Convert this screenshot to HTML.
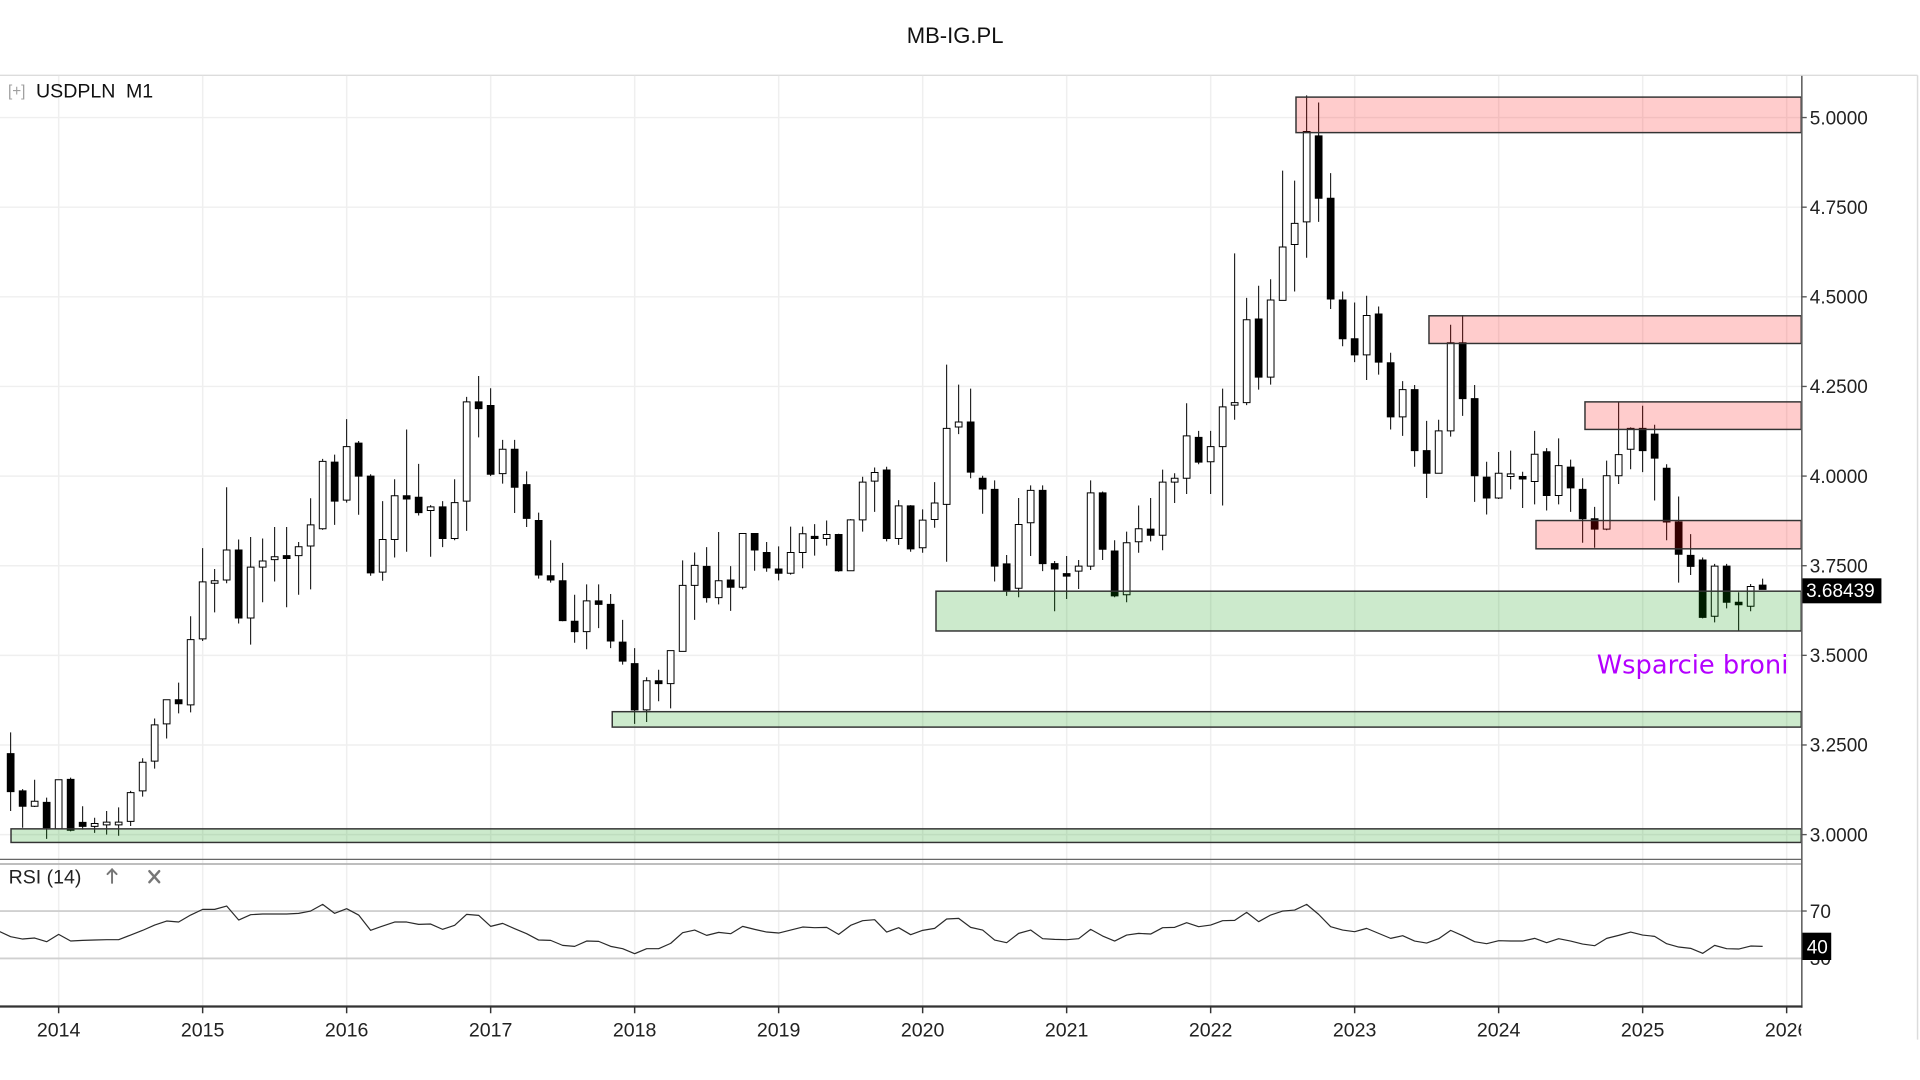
<!DOCTYPE html>
<html>
<head>
<meta charset="utf-8">
<style>
html,body{margin:0;padding:0;background:#fff;width:1920px;height:1080px;overflow:hidden;}
svg{display:block;}
text{font-family:"Liberation Sans",Arial,sans-serif;}
</style>
</head>
<body>
<svg width="1920" height="1080" viewBox="0 0 1568 882" preserveAspectRatio="none" xmlns="http://www.w3.org/2000/svg">
<defs>
<clipPath id="plot"><rect x="0" y="62" width="1471" height="640"/></clipPath>
<clipPath id="xclip"><rect x="0" y="822" width="1471" height="60"/></clipPath>
</defs>
<rect x="0" y="0" width="1568" height="882" fill="#fff"/>

<!-- title -->
<text x="780" y="35" font-size="18" text-anchor="middle" fill="#111">MB-IG.PL</text>

<!-- frame lines -->
<line x1="0" y1="61.5" x2="1566" y2="61.5" stroke="#dcdcdc" stroke-width="1.2"/>
<line x1="1566" y1="61.5" x2="1566" y2="849" stroke="#dcdcdc" stroke-width="1.2"/>

<!-- gridlines -->
<g stroke="#efefef" stroke-width="1.2">
<line x1="0" y1="96" x2="1471" y2="96"/>
<line x1="0" y1="169.2" x2="1471" y2="169.2"/>
<line x1="0" y1="242.4" x2="1471" y2="242.4"/>
<line x1="0" y1="315.6" x2="1471" y2="315.6"/>
<line x1="0" y1="388.8" x2="1471" y2="388.8"/>
<line x1="0" y1="462" x2="1471" y2="462"/>
<line x1="0" y1="535.2" x2="1471" y2="535.2"/>
<line x1="0" y1="608.4" x2="1471" y2="608.4"/>
<line x1="0" y1="681.6" x2="1471" y2="681.6"/>
<line x1="47.9" y1="62" x2="47.9" y2="822"/>
<line x1="165.5" y1="62" x2="165.5" y2="822"/>
<line x1="283.1" y1="62" x2="283.1" y2="822"/>
<line x1="400.7" y1="62" x2="400.7" y2="822"/>
<line x1="518.3" y1="62" x2="518.3" y2="822"/>
<line x1="635.9" y1="62" x2="635.9" y2="822"/>
<line x1="753.5" y1="62" x2="753.5" y2="822"/>
<line x1="871.1" y1="62" x2="871.1" y2="822"/>
<line x1="988.7" y1="62" x2="988.7" y2="822"/>
<line x1="1106.3" y1="62" x2="1106.3" y2="822"/>
<line x1="1223.9" y1="62" x2="1223.9" y2="822"/>
<line x1="1341.5" y1="62" x2="1341.5" y2="822"/>
<line x1="1459.1" y1="62" x2="1459.1" y2="822"/>
</g>

<!-- candles -->
<g clip-path="url(#plot)">
<g transform="matrix(9.8 0 0 -292.8 8.7 1560)">
<path vector-effect="non-scaling-stroke" stroke="#000" stroke-width="1" fill="none" d="M0 3.066V3.285M1 3.019V3.127M2 3.077V3.153M3 2.988V3.103M4 3.016V3.153M5 3.009V3.159M6 3.014V3.079M7 3.005V3.047M8 3.000V3.066M9 2.997V3.076M10 3.024V3.122M11 3.106V3.213M12 3.184V3.324M13 3.268V3.376M14 3.338V3.424M15 3.341V3.609M16 3.540V3.799M17 3.620V3.741M18 3.701V3.969M19 3.589V3.823M20 3.530V3.830M21 3.648V3.826M22 3.706V3.858M23 3.634V3.858M24 3.669V3.816M25 3.684V3.938M26 3.850V4.048M27 3.864V4.060M28 3.926V4.159M29 3.892V4.098M30 3.722V4.005M31 3.708V3.930M32 3.773V3.991M33 3.789V4.130M34 3.890V4.034M35 3.775V3.919M36 3.802V3.930M37 3.821V3.991M38 3.847V4.221M39 4.108V4.279M40 4.000V4.245M41 3.979V4.101M42 3.897V4.101M43 3.858V4.013M44 3.714V3.898M45 3.703V3.821M46 3.595V3.758M47 3.535V3.669M48 3.517V3.698M49 3.576V3.698M50 3.520V3.671M51 3.474V3.599M52 3.309V3.520M53 3.314V3.439M54 3.372V3.460M55 3.352V3.513M56 3.511V3.765M57 3.599V3.787M58 3.647V3.802M59 3.642V3.844M60 3.624V3.749M61 3.684V3.840M62 3.736V3.840M63 3.733V3.816M64 3.709V3.804M65 3.725V3.859M66 3.743V3.859M67 3.778V3.866M68 3.806V3.876M69 3.733V3.839M70 3.736V3.880M71 3.845V3.998M72 3.900V4.024M73 3.818V4.026M74 3.808V3.933M75 3.789V3.919M76 3.786V3.907M77 3.856V3.983M78 3.761V4.311M79 4.117V4.255M80 3.994V4.244M81 3.895V4.001M82 3.706V3.988M83 3.666V3.780M84 3.662V3.939M85 3.777V3.974M86 3.735V3.974M87 3.623V3.763M88 3.657V3.777M89 3.685V3.766M90 3.738V3.988M91 3.766V3.957M92 3.662V3.821M93 3.648V3.845M94 3.786V3.918M95 3.818V3.939M96 3.793V4.018M97 3.925V4.008M98 3.950V4.203M99 4.033V4.126M100 3.950V4.126M101 3.918V4.244M102 4.157V4.621M103 4.198V4.497M104 4.241V4.531M105 4.255V4.549M106 4.490V4.852M107 4.515V4.824M108 4.609V5.062M109 4.709V5.042M110 4.466V4.845M111 4.362V4.515M112 4.318V4.484M113 4.268V4.503M114 4.283V4.473M115 4.130V4.344M116 4.112V4.265M117 4.026V4.254M118 3.939V4.154M119 4.008V4.157M120 4.110V4.422M121 4.168V4.449M122 3.928V4.254M123 3.893V4.040M124 3.936V4.067M125 3.963V4.071M126 3.911V4.012M127 3.921V4.126M128 3.904V4.078M129 3.921V4.105M130 3.900V4.046M131 3.814V3.994M132 3.800V3.914M133 3.849V4.043M134 3.978V4.207M135 4.019V4.136M136 4.011V4.196M137 3.932V4.143M138 3.821V4.033M139 3.703V3.943M140 3.724V3.838M141 3.603V3.773M142 3.592V3.755M143 3.631V3.755M144 3.569V3.676M145 3.623V3.699M146 3.685V3.714"/>
<path vector-effect="non-scaling-stroke" stroke="#000" stroke-width="1" fill="#000" d="M0 3.120m-.28 0h.56v.106h-.56zM1 3.079m-.28 0h.56v.043h-.56zM3 3.019m-.28 0h.56v.071h-.56zM5 3.012m-.28 0h.56v.142h-.56zM6 3.023m-.28 0h.56v.011h-.56zM14 3.365m-.28 0h.56v.011h-.56zM19 3.604m-.28 0h.56v.190h-.56zM23 3.770m-.28 0h.56v.008h-.56zM27 3.930m-.28 0h.56v.109h-.56zM29 4.000m-.28 0h.56v.092h-.56zM30 3.730m-.28 0h.56v.270h-.56zM33 3.936m-.28 0h.56v.009h-.56zM34 3.898m-.28 0h.56v.043h-.56zM36 3.826m-.28 0h.56v.088h-.56zM39 4.188m-.28 0h.56v.019h-.56zM40 4.005m-.28 0h.56v.192h-.56zM42 3.969m-.28 0h.56v.106h-.56zM43 3.882m-.28 0h.56v.094h-.56zM44 3.724m-.28 0h.56v.152h-.56zM45 3.710m-.28 0h.56v.012h-.56zM46 3.597m-.28 0h.56v.111h-.56zM47 3.566m-.28 0h.56v.029h-.56zM49 3.642m-.28 0h.56v.010h-.56zM50 3.540m-.28 0h.56v.102h-.56zM51 3.484m-.28 0h.56v.053h-.56zM52 3.348m-.28 0h.56v.129h-.56zM54 3.421m-.28 0h.56v.008h-.56zM58 3.661m-.28 0h.56v.087h-.56zM60 3.690m-.28 0h.56v.020h-.56zM62 3.794m-.28 0h.56v.046h-.56zM63 3.744m-.28 0h.56v.043h-.56zM64 3.729m-.28 0h.56v.012h-.56zM67 3.826m-.28 0h.56v.006h-.56zM69 3.736m-.28 0h.56v.101h-.56zM73 3.826m-.28 0h.56v.191h-.56zM75 3.797m-.28 0h.56v.120h-.56zM80 4.011m-.28 0h.56v.140h-.56zM81 3.964m-.28 0h.56v.030h-.56zM82 3.749m-.28 0h.56v.214h-.56zM83 3.682m-.28 0h.56v.073h-.56zM86 3.756m-.28 0h.56v.204h-.56zM87 3.741m-.28 0h.56v.015h-.56zM88 3.721m-.28 0h.56v.007h-.56zM91 3.796m-.28 0h.56v.157h-.56zM92 3.666m-.28 0h.56v.125h-.56zM95 3.835m-.28 0h.56v.017h-.56zM99 4.039m-.28 0h.56v.069h-.56zM104 4.276m-.28 0h.56v.162h-.56zM109 4.775m-.28 0h.56v.174h-.56zM110 4.494m-.28 0h.56v.281h-.56zM111 4.383m-.28 0h.56v.108h-.56zM112 4.338m-.28 0h.56v.045h-.56zM114 4.318m-.28 0h.56v.134h-.56zM115 4.165m-.28 0h.56v.151h-.56zM117 4.071m-.28 0h.56v.170h-.56zM118 4.008m-.28 0h.56v.063h-.56zM121 4.216m-.28 0h.56v.156h-.56zM122 4.001m-.28 0h.56v.215h-.56zM123 3.939m-.28 0h.56v.058h-.56zM126 3.992m-.28 0h.56v.007h-.56zM128 3.946m-.28 0h.56v.122h-.56zM130 3.967m-.28 0h.56v.058h-.56zM131 3.881m-.28 0h.56v.082h-.56zM132 3.852m-.28 0h.56v.029h-.56zM136 4.071m-.28 0h.56v.062h-.56zM137 4.050m-.28 0h.56v.067h-.56zM138 3.872m-.28 0h.56v.150h-.56zM139 3.782m-.28 0h.56v.090h-.56zM140 3.748m-.28 0h.56v.031h-.56zM141 3.606m-.28 0h.56v.160h-.56zM143 3.648m-.28 0h.56v.101h-.56zM144 3.641m-.28 0h.56v.007h-.56zM146 3.684m-.28 0h.56v.012h-.56z"/>
<path vector-effect="non-scaling-stroke" stroke="#000" stroke-width="1" fill="#fff" d="M2 3.079m-.28 0h.56v.014h-.56zM4 3.016m-.28 0h.56v.137h-.56zM7 3.023m-.28 0h.56v.008h-.56zM8 3.027m-.28 0h.56v.008h-.56zM9 3.027m-.28 0h.56v.008h-.56zM10 3.037m-.28 0h.56v.080h-.56zM11 3.122m-.28 0h.56v.080h-.56zM12 3.205m-.28 0h.56v.101h-.56zM13 3.309m-.28 0h.56v.067h-.56zM15 3.362m-.28 0h.56v.182h-.56zM16 3.546m-.28 0h.56v.159h-.56zM17 3.701m-.28 0h.56v.007h-.56zM18 3.710m-.28 0h.56v.084h-.56zM20 3.604m-.28 0h.56v.142h-.56zM21 3.746m-.28 0h.56v.017h-.56zM22 3.767m-.28 0h.56v.008h-.56zM24 3.778m-.28 0h.56v.025h-.56zM25 3.805m-.28 0h.56v.059h-.56zM26 3.853m-.28 0h.56v.188h-.56zM28 3.933m-.28 0h.56v.149h-.56zM31 3.732m-.28 0h.56v.091h-.56zM32 3.823m-.28 0h.56v.122h-.56zM35 3.904m-.28 0h.56v.010h-.56zM37 3.826m-.28 0h.56v.100h-.56zM38 3.930m-.28 0h.56v.277h-.56zM41 4.007m-.28 0h.56v.068h-.56zM48 3.566m-.28 0h.56v.086h-.56zM53 3.348m-.28 0h.56v.081h-.56zM55 3.421m-.28 0h.56v.092h-.56zM56 3.511m-.28 0h.56v.184h-.56zM57 3.695m-.28 0h.56v.056h-.56zM59 3.661m-.28 0h.56v.047h-.56zM61 3.690m-.28 0h.56v.150h-.56zM65 3.729m-.28 0h.56v.058h-.56zM66 3.787m-.28 0h.56v.052h-.56zM68 3.826m-.28 0h.56v.011h-.56zM70 3.736m-.28 0h.56v.142h-.56zM71 3.878m-.28 0h.56v.105h-.56zM72 3.986m-.28 0h.56v.024h-.56zM74 3.826m-.28 0h.56v.091h-.56zM76 3.800m-.28 0h.56v.077h-.56zM77 3.879m-.28 0h.56v.046h-.56zM78 3.921m-.28 0h.56v.212h-.56zM79 4.137m-.28 0h.56v.014h-.56zM84 3.687m-.28 0h.56v.178h-.56zM85 3.870m-.28 0h.56v.090h-.56zM89 3.735m-.28 0h.56v.014h-.56zM90 3.749m-.28 0h.56v.204h-.56zM93 3.669m-.28 0h.56v.145h-.56zM94 3.817m-.28 0h.56v.036h-.56zM96 3.835m-.28 0h.56v.148h-.56zM97 3.983m-.28 0h.56v.011h-.56zM98 3.994m-.28 0h.56v.118h-.56zM100 4.040m-.28 0h.56v.042h-.56zM101 4.082m-.28 0h.56v.111h-.56zM102 4.198m-.28 0h.56v.007h-.56zM103 4.205m-.28 0h.56v.231h-.56zM105 4.276m-.28 0h.56v.215h-.56zM106 4.490m-.28 0h.56v.149h-.56zM107 4.646m-.28 0h.56v.059h-.56zM108 4.709m-.28 0h.56v.252h-.56zM113 4.338m-.28 0h.56v.110h-.56zM116 4.165m-.28 0h.56v.076h-.56zM119 4.008m-.28 0h.56v.118h-.56zM120 4.126m-.28 0h.56v.246h-.56zM124 3.939m-.28 0h.56v.069h-.56zM125 3.999m-.28 0h.56v.007h-.56zM127 3.985m-.28 0h.56v.076h-.56zM129 3.946m-.28 0h.56v.083h-.56zM133 3.852m-.28 0h.56v.149h-.56zM134 4.001m-.28 0h.56v.059h-.56zM135 4.075m-.28 0h.56v.058h-.56zM142 3.609m-.28 0h.56v.140h-.56zM145 3.637m-.28 0h.56v.055h-.56z"/>
</g>

<!-- zones -->
<g stroke="#333" stroke-width="1.2">
<rect x="1058.4" y="79.3" width="412.6" height="29" fill="rgba(255,0,0,0.2)"/>
<rect x="1167" y="257.9" width="304" height="22.6" fill="rgba(255,0,0,0.2)"/>
<rect x="1294.4" y="328.2" width="176.6" height="22.5" fill="rgba(255,0,0,0.2)"/>
<rect x="1254.4" y="425.1" width="216.6" height="23.1" fill="rgba(255,0,0,0.2)"/>
<rect x="764.4" y="482.8" width="706.6" height="32.5" fill="rgba(0,150,0,0.2)"/>
<rect x="500" y="581.2" width="971" height="12.6" fill="rgba(0,150,0,0.2)"/>
<rect x="9" y="676.9" width="1462" height="11.1" fill="rgba(0,150,0,0.2)"/>
</g>
</g>

<!-- annotation -->
<text x="1304" y="550" font-size="21" fill="#b400ff" style="font-family:'DejaVu Sans',sans-serif;">Wsparcie broni</text>

<!-- panel separators -->
<line x1="0" y1="701.8" x2="1471" y2="701.8" stroke="#666" stroke-width="1"/>
<line x1="0" y1="705.6" x2="1471" y2="705.6" stroke="#b5b5b5" stroke-width="1.5"/>

<!-- RSI reference lines -->
<line x1="0" y1="744" x2="1471" y2="744" stroke="#d0d0d0" stroke-width="1.5"/>
<line x1="0" y1="782.7" x2="1471" y2="782.7" stroke="#d0d0d0" stroke-width="1.5"/>

<!-- RSI line -->
<g transform="matrix(9.8 0 0 0.2722 8.7 694.2)">
<polyline vector-effect="non-scaling-stroke" fill="none" stroke="#2a2a2a" stroke-width="1.2" stroke-linejoin="round" points="-0.9,245 0,260 1,267 2,264 3,275 4,253 5,273 6,271 7,270 8,269 9,269 10,255 11,241 12,225 13,213 14,216 15,195 16,178 17,178 18,168 19,210 20,194 21,192 22,192 23,192 24,190 25,183 26,163 27,190 28,176 29,195 30,241 31,228 32,216 33,216 34,223 35,222 36,238 37,226 38,193 39,196 40,229 41,220 42,236 43,251 44,270 45,271 46,286 47,289 48,273 49,274 50,289 51,296 52,311 53,296 54,296 55,280 56,248 57,240 58,256 59,247 60,251 61,229 62,238 63,246 64,249 65,240 66,231 67,233 68,232 69,253 70,226 71,212 72,209 73,246 74,233 75,254 76,241 77,235 78,207 79,205 80,232 81,240 82,270 83,278 84,250 85,240 86,266 87,268 88,269 89,266 90,238 91,258 92,273 93,255 94,250 95,252 96,233 97,232 98,218 99,230 100,225 101,212 102,211 103,187 104,215 105,195 106,183 107,180 108,163 109,193 110,230 111,240 112,245 113,235 114,250 115,265 116,257 117,273 118,279 119,266 120,241 121,257 122,275 123,281 124,272 125,273 126,273 127,265 128,278 129,266 130,273 131,282 132,287 133,265 134,256 135,246 136,255 137,259 138,281 139,291 140,295 141,310 142,286 143,296 144,297 145,288 146,289"/>
</g>

<!-- axes -->
<line x1="1471.5" y1="62" x2="1471.5" y2="823" stroke="#555" stroke-width="1.2"/>
<line x1="0" y1="822" x2="1472" y2="822" stroke="#333" stroke-width="1.8"/>
<g stroke="#333" stroke-width="1.2">
<line x1="47.9" y1="822" x2="47.9" y2="827.5"/>
<line x1="165.5" y1="822" x2="165.5" y2="827.5"/>
<line x1="283.1" y1="822" x2="283.1" y2="827.5"/>
<line x1="400.7" y1="822" x2="400.7" y2="827.5"/>
<line x1="518.3" y1="822" x2="518.3" y2="827.5"/>
<line x1="635.9" y1="822" x2="635.9" y2="827.5"/>
<line x1="753.5" y1="822" x2="753.5" y2="827.5"/>
<line x1="871.1" y1="822" x2="871.1" y2="827.5"/>
<line x1="988.7" y1="822" x2="988.7" y2="827.5"/>
<line x1="1106.3" y1="822" x2="1106.3" y2="827.5"/>
<line x1="1223.9" y1="822" x2="1223.9" y2="827.5"/>
<line x1="1341.5" y1="822" x2="1341.5" y2="827.5"/>
<line x1="1459.1" y1="822" x2="1459.1" y2="827.5"/>
</g>
<g stroke="#555" stroke-width="1.1">
<line x1="1471" y1="96" x2="1475.5" y2="96"/>
<line x1="1471" y1="169.2" x2="1475.5" y2="169.2"/>
<line x1="1471" y1="242.4" x2="1475.5" y2="242.4"/>
<line x1="1471" y1="315.6" x2="1475.5" y2="315.6"/>
<line x1="1471" y1="388.8" x2="1475.5" y2="388.8"/>
<line x1="1471" y1="462" x2="1475.5" y2="462"/>
<line x1="1471" y1="535.2" x2="1475.5" y2="535.2"/>
<line x1="1471" y1="608.4" x2="1475.5" y2="608.4"/>
<line x1="1471" y1="681.6" x2="1475.5" y2="681.6"/>
<line x1="1471" y1="744" x2="1475.5" y2="744"/>
<line x1="1471" y1="782.7" x2="1475.5" y2="782.7"/>
</g>

<!-- price labels -->
<g font-size="15.5" fill="#222">
<text x="1478" y="101.5">5.0000</text>
<text x="1478" y="174.7">4.7500</text>
<text x="1478" y="247.9">4.5000</text>
<text x="1478" y="321.1">4.2500</text>
<text x="1478" y="394.3">4.0000</text>
<text x="1478" y="467.5">3.7500</text>
<text x="1478" y="540.7">3.5000</text>
<text x="1478" y="613.9">3.2500</text>
<text x="1478" y="687.1">3.0000</text>
<text x="1478" y="749.5">70</text>
<text x="1478" y="788.2">30</text>
</g>
<rect x="1472" y="472.3" width="64.5" height="20.4" fill="#000"/>
<text x="1475" y="487.5" font-size="15.5" fill="#fff">3.68439</text>
<rect x="1472" y="761.7" width="23.5" height="22.3" fill="#000"/>
<text x="1475.5" y="778.5" font-size="15.5" fill="#fff">40</text>

<!-- year labels -->
<g font-size="16" fill="#222" text-anchor="middle">
<text x="47.9" y="846.5">2014</text>
<text x="165.5" y="846.5">2015</text>
<text x="283.1" y="846.5">2016</text>
<text x="400.7" y="846.5">2017</text>
<text x="518.3" y="846.5">2018</text>
<text x="635.9" y="846.5">2019</text>
<text x="753.5" y="846.5">2020</text>
<text x="871.1" y="846.5">2021</text>
<text x="988.7" y="846.5">2022</text>
<text x="1106.3" y="846.5">2023</text>
<text x="1223.9" y="846.5">2024</text>
<text x="1341.5" y="846.5">2025</text>
<g clip-path="url(#xclip)"><text x="1459.1" y="846.5">2026</text></g>
</g>

<!-- legend labels -->
<text x="6.5" y="78.5" font-size="12.5" fill="#a0a0a0">[+]</text>
<text x="29.4" y="79.5" font-size="16" fill="#111">USDPLN</text>
<text x="102.9" y="79.5" font-size="16" fill="#111">M1</text>

<text x="7" y="721.5" font-size="16" fill="#222">RSI (14)</text>
<g stroke="#777" stroke-width="1.6" fill="none" stroke-linecap="round">
<line x1="91.5" y1="710" x2="91.5" y2="721"/>
<polyline points="87.8,713.8 91.5,710 95.2,713.8"/>
</g>
<g stroke="#777" stroke-width="2" stroke-linecap="round">
<line x1="122" y1="711.5" x2="130" y2="720.5"/>
<line x1="130" y1="711.5" x2="122" y2="720.5"/>
</g>
</svg>
</body>
</html>
